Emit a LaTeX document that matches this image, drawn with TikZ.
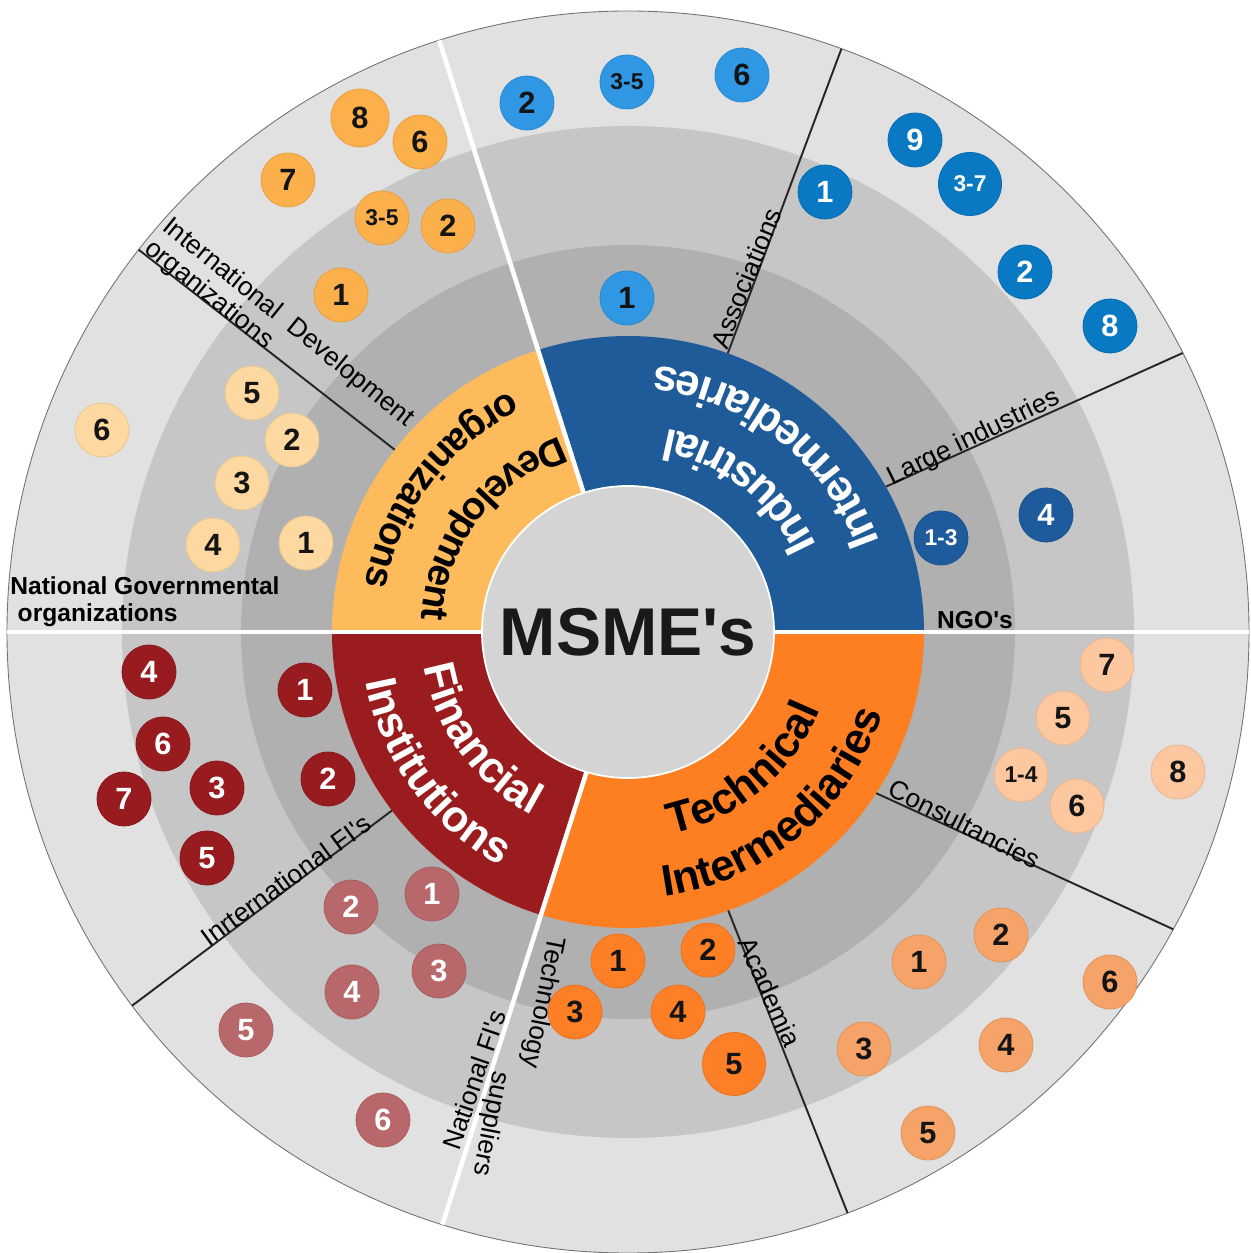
\documentclass[tikz,border=0pt]{standalone}
\usepackage{fontspec}
\setmainfont{Liberation Sans}
\usetikzlibrary{decorations.text}

\definecolor{outerring}{HTML}{E1E1E1}
\definecolor{midring}{HTML}{C6C6C6}
\definecolor{innerring}{HTML}{B0B0B0}
\definecolor{corecol}{HTML}{D4D4D4}
\definecolor{devcol}{HTML}{FDBB5C}
\definecolor{indcol}{HTML}{1F5B99}
\definecolor{fincol}{HTML}{9A1C1F}
\definecolor{techcol}{HTML}{FE7F22}
\definecolor{idevcol}{HTML}{FBB04B}
\definecolor{ngovcol}{HTML}{FDD9A1}
\definecolor{assoccol}{HTML}{2F97E3}
\definecolor{largecol}{HTML}{0A79C3}
\definecolor{ngocol}{HTML}{1D5B9C}
\definecolor{conscol}{HTML}{FDC79F}
\definecolor{acadcol}{HTML}{F5A368}
\definecolor{tsupcol}{HTML}{FE7F26}
\definecolor{ifincol}{HTML}{981B1F}
\definecolor{nfincol}{HTML}{B8686B}

\newcommand{\sq}{\textquotesingle}

\tikzset{
    badge/.style={circle, inner sep=0pt, minimum size=1.08cm, line width=0.5pt, text=black!92, font=\bfseries\fontsize{17.5}{18}\selectfont},
    smallnum/.style={font=\bfseries\fontsize{13}{14}\selectfont},
    bigbadge/.style={minimum size=1.26cm},
    idev/.style={badge, fill=idevcol, draw=idevcol!92!black},
    ngov/.style={badge, fill=ngovcol, draw=ngovcol!92!black},
    assoc/.style={badge, fill=assoccol, draw=assoccol!92!black},
    large/.style={badge, fill=largecol, draw=largecol!92!black, text=white},
    ngo/.style={badge, fill=ngocol, draw=ngocol!92!black, text=white},
    cons/.style={badge, fill=conscol, draw=conscol!92!black},
    acad/.style={badge, fill=acadcol, draw=acadcol!92!black},
    tsup/.style={badge, fill=tsupcol, draw=tsupcol!92!black},
    ifin/.style={badge, fill=ifincol, draw=ifincol!92!black, text=white},
    nfin/.style={badge, fill=nfincol, draw=nfincol!92!black, text=white},
    sepwhite/.style={white, line width=2.6pt},
    sepblack/.style={black!85, line width=1.1pt},
    sublabel/.style={inner sep=0pt, text=black, font=\fontsize{15}{16}\selectfont},
    boldlabel/.style={inner sep=0pt, text=black, font=\bfseries\fontsize{14}{15.5}\selectfont}
}

\begin{document}
\begin{tikzpicture}[x=0.02cm, y=0.02cm]
    \pgfmathsetmacro{\router}{621}
    \pgfmathsetmacro{\rmid}{506}
    \pgfmathsetmacro{\rinner}{387}
    \pgfmathsetmacro{\rring}{296}
    \pgfmathsetmacro{\rcore}{146}
    \pgfmathsetmacro{\rtextin}{207}
    \pgfmathsetmacro{\rtextout}{267}
    \providecommand{\ringfontsize}{\fontsize{25}{28}\selectfont}
    \providecommand{\devfontsize}{\fontsize{22}{26}\selectfont}
    \providecommand{\corefontsize}{\fontsize{38.5}{42}\selectfont}
    \fill[white] (-628,-621) rectangle (622,632);
    \useasboundingbox (-628,-621) rectangle (622,632);
    % grey rings
    \fill[outerring] (0,0) circle (\router);
    \draw[black!55, line width=0.5pt] (0,0) circle (\router);
    \fill[midring] (0,0) circle (\rmid);
    \fill[innerring] (0,0) circle (\rinner);
    % coloured stakeholder ring
    \fill[indcol] (0:\rcore) -- (0:\rring) arc[start angle=0, end angle=107.7, radius=\rring] -- (107.7:\rcore) arc[start angle=107.7, end angle=0, radius=\rcore] -- cycle;
    \fill[devcol] (107.7:\rcore) -- (107.7:\rring) arc[start angle=107.7, end angle=180, radius=\rring] -- (180:\rcore) arc[start angle=180, end angle=107.7, radius=\rcore] -- cycle;
    \fill[fincol] (180:\rcore) -- (180:\rring) arc[start angle=180, end angle=253, radius=\rring] -- (253:\rcore) arc[start angle=253, end angle=180, radius=\rcore] -- cycle;
    \fill[techcol] (253:\rcore) -- (253:\rring) arc[start angle=253, end angle=360, radius=\rring] -- (360:\rcore) arc[start angle=360, end angle=253, radius=\rcore] -- cycle;
    % sector borders
    \draw[sepwhite] (0:\rcore) -- (0:\router);
    \draw[sepwhite] (180:\rcore) -- (180:\router);
    \draw[sepwhite] (107.7:\rcore) -- (107.7:\router);
    \draw[sepwhite] (253.5:\rcore) -- (252.6:\router);
    \draw[sepblack] (142:\rring) -- (142:\router);
    \draw[sepblack] (70.3:\rring) -- (69.9:\router);
    \draw[sepblack] (29.4:\rring) -- (26.7:\router);
    \draw[sepblack] (-33:\rring) -- (-28.6:\router);
    \draw[sepblack] (-70.2:\rring) -- (-69.3:\router);
    \draw[sepblack] (217.1:\rring) -- (217:\router);
    % centre
    \fill[corecol, draw=white, line width=1pt] (0,0) circle (\rcore);
    \node[font=\bfseries\corefontsize, text=black!90] (msme) at (0,0) {MSME\sq s};
    % ring labels
    \path[decorate, decoration={text along path, text align=center, text={|\bfseries\devfontsize|Development}}] (93:\rtextin) arc[start angle=93, end angle=193, radius=\rtextin];
    \path[decorate, decoration={text along path, text align=center, text={|\bfseries\devfontsize|organizations}}] (93:\rtextout) arc[start angle=93, end angle=193, radius=\rtextout];
    \path[decorate, decoration={text along path, text align=center, text color=white, text={|\bfseries\ringfontsize|Industrial}}] (2:\rtextin) arc[start angle=2, end angle=102, radius=\rtextin];
    \path[decorate, decoration={text along path, text align=center, text color=white, text={|\bfseries\ringfontsize|Intermediaries}}] (2:\rtextout) arc[start angle=2, end angle=102, radius=\rtextout];
    \path[decorate, decoration={text along path, text align=center, text color=white, text={|\bfseries\ringfontsize|Financial}}] (166:\rtextin) arc[start angle=166, end angle=266, radius=\rtextin];
    \path[decorate, decoration={text along path, text align=center, text color=white, text={|\bfseries\ringfontsize|Institutions}}] (166:\rtextout) arc[start angle=166, end angle=266, radius=\rtextout];
    \path[decorate, decoration={text along path, text align=center, text={|\bfseries\ringfontsize|Technical}}] (260:\rtextin) arc[start angle=260, end angle=360, radius=\rtextin];
    \path[decorate, decoration={text along path, text align=center, text={|\bfseries\ringfontsize|Intermediaries}}] (260:\rtextout) arc[start angle=260, end angle=360, radius=\rtextout];
    % sector labels
    \node[sublabel, rotate=-39, align=left] (idevlbl) at (-349,298) {International\ \ Development\\organizations};
    \node[boldlabel, anchor=west, align=left] (ngovlbl) at (-618,30) {National Governmental\\\hspace*{0.3em}organizations};
    \node[sublabel, rotate=68] (assoclbl) at (118,354) {Associations};
    \node[sublabel, rotate=26] (largelbl) at (346,194) {Large industries};
    \node[boldlabel] (ngolbl) at (347,12) {NGO\sq s};
    \node[sublabel, rotate=-27] (conslbl) at (337,-192) {Consultancies};
    \node[sublabel, rotate=-66] (acadlbl) at (142,-360) {Academia};
    \node[sublabel, rotate=-101, align=left] (tsuplbl) at (-110,-424) {Technology\\\hspace*{5.45em}suppliers};
    \node[sublabel, rotate=71] (nfinlbl) at (-154,-448) {National FI\sq s};
    \node[sublabel, rotate=36] (ifinlbl) at (-342,-248) {Inrternational FI\sq s};
    % international development organizations
    \node[idev, minimum size=1.16cm] (idev8) at (-268,514) {8};
    \node[idev] (idev6) at (-208,490) {6};
    \node[idev] (idev7) at (-340,452) {7};
    \node[idev, smallnum] (idev35) at (-246,414) {3-5};
    \node[idev] (idev2) at (-180,406) {2};
    \node[idev] (idev1) at (-287,337) {1};
    % national governmental organizations
    \node[ngov] (ngov6) at (-526,202) {6};
    \node[ngov] (ngov5) at (-376,239) {5};
    \node[ngov] (ngov2) at (-336,192) {2};
    \node[ngov] (ngov3) at (-386,149) {3};
    \node[ngov] (ngov4) at (-415,87) {4};
    \node[ngov] (ngov1) at (-322,89) {1};
    % associations
    \node[assoc] (assoc2) at (-101,529) {2};
    \node[assoc, smallnum] (assoc35) at (-1,550) {3-5};
    \node[assoc] (assoc6) at (114,557) {6};
    \node[assoc] (assoc1) at (-1,334) {1};
    % large industries
    \node[large] (large9) at (287,492) {9};
    \node[large, smallnum, bigbadge] (large37) at (342,448) {3-7};
    \node[large] (large1) at (197,440) {1};
    \node[large] (large2) at (397,360) {2};
    \node[large] (large8) at (482,306) {8};
    % NGO's
    \node[ngo, smallnum] (ngo13) at (313,94) {1-3};
    \node[ngo] (ngo4) at (418,117) {4};
    % consultancies
    \node[cons] (cons7) at (479,-33) {7};
    \node[cons] (cons5) at (435,-86) {5};
    \node[cons, smallnum] (cons14) at (393,-143) {1-4};
    \node[cons] (cons6) at (449,-174) {6};
    \node[cons] (cons8) at (550,-140) {8};
    % academia
    \node[acad] (acad2) at (373,-303) {2};
    \node[acad] (acad1) at (291,-330) {1};
    \node[acad] (acad6) at (482,-350) {6};
    \node[acad] (acad3) at (236,-417) {3};
    \node[acad] (acad4) at (378,-413) {4};
    \node[acad] (acad5) at (300,-501) {5};
    % technology suppliers
    \node[tsup] (tsup1) at (-10,-329) {1};
    \node[tsup] (tsup2) at (80,-318) {2};
    \node[tsup] (tsup3) at (-53,-380) {3};
    \node[tsup] (tsup4) at (50,-380) {4};
    \node[tsup, bigbadge] (tsup5) at (106,-432) {5};
    % international FI's
    \node[ifin] (ifin4) at (-479,-40) {4};
    \node[ifin] (ifin1) at (-323,-58) {1};
    \node[ifin] (ifin6) at (-465,-112) {6};
    \node[ifin] (ifin3) at (-411,-156) {3};
    \node[ifin] (ifin7) at (-504,-167) {7};
    \node[ifin] (ifin2) at (-300,-147) {2};
    \node[ifin] (ifin5) at (-421,-226) {5};
    % national FI's
    \node[nfin] (nfin1) at (-196,-262) {1};
    \node[nfin] (nfin2) at (-277,-275) {2};
    \node[nfin] (nfin3) at (-189,-339) {3};
    \node[nfin] (nfin4) at (-276,-360) {4};
    \node[nfin] (nfin5) at (-382,-398) {5};
    \node[nfin] (nfin6) at (-245,-488) {6};
\end{tikzpicture}
\end{document}
